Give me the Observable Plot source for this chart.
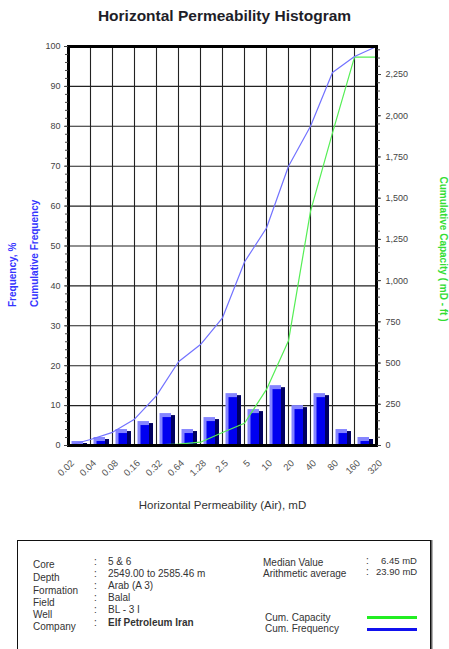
<!DOCTYPE html>
<html>
<head>
<meta charset="utf-8">
<script src="https://cdn.jsdelivr.net/npm/d3@7"></script>
<script src="https://cdn.jsdelivr.net/npm/@observablehq/plot@0.6"></script>
<style>
  html, body { margin: 0; padding: 0; background: #fff; }
  body { width: 449px; height: 649px; position: relative; overflow: hidden; font-family: "Liberation Sans", Arial, sans-serif; }
  #chart { position: absolute; left: 0; top: 0; }
  #title { position: absolute; left: 0; width: 449px; top: 7px; text-align: center; font-weight: bold; font-size: 15.5px; color: #1e1e28; }
  #box { position: absolute; left: 17px; top: 540px; width: 412px; height: 140px; border: 1.6px solid #111; box-shadow: 1.5px 0 0 #666; }
  .t { position: absolute; font-size: 10px; color: #333; white-space: nowrap; line-height: 1; }
  .s { font-size: 9.5px; }
  .b { font-weight: bold; }
  .ln { position: absolute; height: 3px; width: 50px; }
</style>
</head>
<body>
<div id="title">Horizontal Permeability Histogram</div>
<div id="chart"></div>
<div id="box"></div>
<script>
// ---- data ----
const xLabels = ["0.02","0.04","0.08","0.16","0.32","0.64","1.28","2.5","5","10","20","40","80","160","320"];
const frequency = [1, 2, 4, 6, 8, 4, 7, 13, 9, 15, 10, 13, 4, 2];           // % per class
const cumFrequency = [0, 1.5, 3.3, 6.6, 12.5, 21, 25.3, 32, 46, 54.5, 70, 80, 93.5, 97.5, 100]; // %
const cumCapacity = [0, 0.5, 1, 2, 4, 8, 20, 79, 135, 340, 635, 1420, 1896, 2356, 2356]; // mD-ft
const capMax = 2420;
const capTicks = [0, 250, 500, 750, 1000, 1250, 1500, 1750, 2000, 2250];
const freqTicks = [0, 10, 20, 30, 40, 50, 60, 70, 80, 90, 100];

const infoLabels = ["Core", "Depth", "Formation", "Field", "Well", "Company"];
const infoValues = ["5 & 6", "2549.00 to 2585.46 m", "Arab (A 3)", "Balal", "BL - 3 I", "Elf Petroleum Iran"];
const statLabels = ["Median Value", "Arithmetic average"];
const statValues = ["6.45 mD", "23.90 mD"];
const legendLabels = ["Cum. Capacity", "Cum. Frequency"];
const legendColors = ["#22ee22", "#1111ee"];

// ---- derived tables ----
const bars = frequency.map((v, i) => ({x1: i, x2: i + 1, v}));
const freqPts = cumFrequency.map((v, i) => ({x: i, v}));
const capPts = cumCapacity.map((v, i) => ({x: i, v: v / capMax * 100}));
const toLeft = c => c / capMax * 100;

const font = "Liberation Sans, Arial, sans-serif";
const chart = Plot.plot({
  width: 449,
  height: 520,
  marginTop: 46,
  marginBottom: 75,
  marginLeft: 68,
  marginRight: 73,
  style: {fontFamily: font, background: "transparent"},
  x: {type: "linear", domain: [0, 14], axis: null},
  y: {type: "linear", domain: [0, 100]},
  marks: [
    Plot.ruleX(d3.range(0, 15), {x: d => d, stroke: "#222", strokeWidth: 1.1}),
    Plot.ruleY(freqTicks, {y: d => d, stroke: "#222", strokeWidth: 1.1}),
    // 3D-looking bars: light back, blue front, dark side
    Plot.rectY(bars, {x1: "x1", x2: "x2", y1: 0, y2: "v", fill: "#8585ff", insetLeft: 3.5, insetRight: 7}),
    Plot.rectY(bars, {x1: "x1", x2: "x2", y1: 0, y2: "v", fill: "#0000f0", insetLeft: 6.5, insetRight: 7, insetTop: 4}),
    Plot.rectY(bars, {x1: "x1", x2: "x2", y1: 0, y2: "v", fill: "#000060", insetLeft: 15, insetRight: 3, insetTop: 2}),
    Plot.line(capPts, {x: "x", y: "v", stroke: "#55ee55", strokeWidth: 1.2}),
    Plot.line(freqPts, {x: "x", y: "v", stroke: "#7272ff", strokeWidth: 1.2}),
    Plot.frame({stroke: "#000", strokeWidth: 3}),
    // left axis
    Plot.axisY({anchor: "left", ticks: d3.range(0, 101, 2), tickSize: 3, tickFormat: () => "", stroke: "#444", label: null}),
    Plot.axisY({anchor: "left", ticks: freqTicks, tickSize: 4, tickPadding: 4, fontSize: 9, color: "#444", label: null}),
    // right axis (capacity mapped onto frequency scale)
    Plot.axisY({anchor: "right", ticks: d3.range(0, 2401, 50).map(toLeft), tickSize: 3, tickFormat: () => "", stroke: "#444", label: null}),
    Plot.axisY({anchor: "right", ticks: capTicks.map(toLeft), tickSize: 4, tickPadding: 5, fontSize: 9, color: "#444", label: null,
      tickFormat: d => d3.format(",")(Math.round(d * capMax / 100 / 250) * 250)}),
    // x tick labels
    Plot.text(xLabels, {x: (d, i) => i, y: 0, text: d => d, rotate: -45, textAnchor: "end", dx: 4, dy: 16, fontSize: 9.5, fill: "#555"}),
    // axis titles
    Plot.text(["Horizontal Permeability (Air), mD"], {frameAnchor: "bottom", textAnchor: "middle", dy: 63, fontSize: 11.5, fill: "#333", fontWeight: 500}),
    Plot.text(["Frequency, %"], {frameAnchor: "left", dx: -56, dy: 61, rotate: -90, textAnchor: "start", fontSize: 10, fontWeight: "bold", fill: "#3535ff"}),
    Plot.text(["Cumulative Frequency"], {frameAnchor: "left", dx: -34, dy: 61, rotate: -90, textAnchor: "start", fontSize: 10, fontWeight: "bold", fill: "#3535ff"}),
    Plot.text(["Cumulative Capacity ( mD - ft )"], {frameAnchor: "right", dx: 67, dy: 3, rotate: 90, textAnchor: "middle", fontSize: 10, fontWeight: "bold", fill: "#33dd33"})
  ]
});
document.getElementById("chart").appendChild(chart);

// ---- info box ----
const body = document.body;
function addText(txt, x, y, cls) {
  const d = document.createElement("div");
  d.className = "t" + (cls ? " " + cls : "");
  d.textContent = txt;
  d.style.left = x + "px";
  d.style.top = y + "px";
  body.appendChild(d);
}
const labelY = [560, 573, 586, 598, 610, 622];
const valueY = [557, 569, 581, 593, 605, 618];
infoLabels.forEach((t, i) => addText(t, 33, labelY[i]));
infoValues.forEach((t, i) => {
  addText(":", 94, valueY[i]);
  addText(t, 108, valueY[i], i === infoValues.length - 1 ? "b" : "");
});
statLabels.forEach((t, i) => addText(t, 263, 558 + i * 11));
const statX = [381, 376];
statValues.forEach((t, i) => {
  addText(":", 366, 556 + i * 11);
  addText(t, statX[i], 556 + i * 11, "s");
});
legendLabels.forEach((t, i) => {
  addText(t, 265, 613 + i * 11);
  const l = document.createElement("div");
  l.className = "ln";
  l.style.left = "367px";
  l.style.top = (616 + i * 12) + "px";
  l.style.background = legendColors[i];
  body.appendChild(l);
});
</script>
</body>
</html>
